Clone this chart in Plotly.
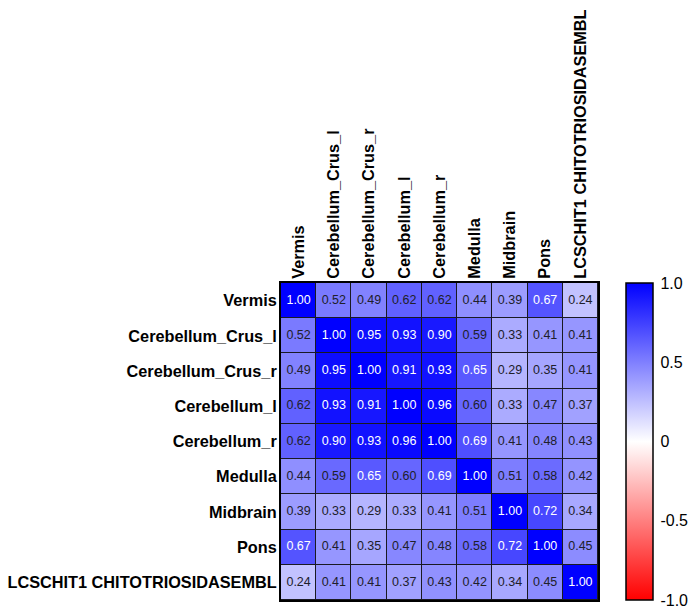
import plotly.graph_objects as go

regions = [
    "Vermis", "Cerebellum_Crus_l", "Cerebellum_Crus_r", "Cerebellum_l",
    "Cerebellum_r", "Medulla", "Midbrain", "Pons", "LCSCHIT1 CHITOTRIOSIDASEMBL",
]

# Pairwise correlation coefficients (rows follow the same order as columns)
r_vermis = [1.00, 0.52, 0.49, 0.62, 0.62, 0.44, 0.39, 0.67, 0.24]
r_crus_l = [0.52, 1.00, 0.95, 0.93, 0.90, 0.59, 0.33, 0.41, 0.41]
r_crus_r = [0.49, 0.95, 1.00, 0.91, 0.93, 0.65, 0.29, 0.35, 0.41]
r_cereb_l = [0.62, 0.93, 0.91, 1.00, 0.96, 0.60, 0.33, 0.47, 0.37]
r_cereb_r = [0.62, 0.90, 0.93, 0.96, 1.00, 0.69, 0.41, 0.48, 0.43]
r_medulla = [0.44, 0.59, 0.65, 0.60, 0.69, 1.00, 0.51, 0.58, 0.42]
r_midbrain = [0.39, 0.33, 0.29, 0.33, 0.41, 0.51, 1.00, 0.72, 0.34]
r_pons = [0.67, 0.41, 0.35, 0.47, 0.48, 0.58, 0.72, 1.00, 0.45]
r_chit1 = [0.24, 0.41, 0.41, 0.37, 0.43, 0.42, 0.34, 0.45, 1.00]

matrix = [r_vermis, r_crus_l, r_crus_r, r_cereb_l, r_cereb_r,
          r_medulla, r_midbrain, r_pons, r_chit1]

cbar_vals = [1.0, 0.5, 0, -0.5, -1.0]
cbar_text = ["1.0", "0.5", "0", "-0.5", "-1.0"]

FONT = "Liberation Sans, Arial, sans-serif"
PLOT_W = 317  # plot-area width in px, used to place the colour-bar tick marks

fig = go.Figure()

cb_x0 = 1.0883
cb_thick = 27

fig.add_trace(go.Heatmap(
    z=matrix, x=regions, y=regions,
    zmin=-1, zmax=1,
    colorscale=[[0, "rgb(255,0,0)"], [0.5, "rgb(255,255,255)"], [1, "rgb(0,0,255)"]],
    xgap=1, ygap=1,
    hoverinfo="skip",
    colorbar=dict(
        x=cb_x0, xanchor="left", xref="paper",
        y=0.5, yanchor="middle", len=1, lenmode="fraction",
        thickness=cb_thick, xpad=0, ypad=0,
        outlinecolor="black", outlinewidth=1.5,
        tickvals=cbar_vals, ticktext=cbar_text,
        ticks="outside", ticklen=4, tickwidth=1, tickcolor="rgba(0,0,0,0)",
        ticklabeloverflow="allow",
        tickfont=dict(family=FONT, size=16, color="black"),
    ),
))

# Cell value labels: light text on the darker cells
xs, ys, labels, colors = [], [], [], []
for i, row in enumerate(matrix):
    for j, v in enumerate(row):
        xs.append(regions[j])
        ys.append(regions[i])
        labels.append(f"{v:.2f}")
        colors.append("white" if v >= 0.64 else "#20202a")

fig.add_trace(go.Scatter(
    x=xs, y=ys, mode="text", text=labels,
    textfont=dict(family=FONT, size=12.5, color=colors),
    hoverinfo="skip", showlegend=False,
))

# Short inward tick marks on both edges of the colour bar
left = cb_x0
right = cb_x0 + cb_thick / PLOT_W
tick = 4 / PLOT_W
for frac in [0.25, 0.5, 0.75]:
    for xa, xb in [(left, left + tick), (right - tick, right)]:
        fig.add_shape(type="line", xref="paper", yref="paper",
                      x0=xa, x1=xb, y0=frac, y1=frac,
                      line=dict(color="black", width=1.5))

fig.update_layout(
    width=693, height=610,
    margin=dict(l=281, r=95, t=283, b=10, autoexpand=False),
    paper_bgcolor="white", plot_bgcolor="#1a1a22",
    showlegend=False,
    font=dict(family=FONT, color="black"),
    xaxis=dict(
        side="top", tickangle=-90, type="category",
        tickfont=dict(family=FONT, size=16.3, color="black", weight="bold"),
        showgrid=False, zeroline=False, ticks="",
        showline=True, linecolor="black", linewidth=2, mirror=True,
        range=[-0.5, 8.5], automargin=False, ticklabelstandoff=-1,
    ),
    yaxis=dict(
        type="category", autorange="reversed",
        tickfont=dict(family=FONT, size=16.3, color="black", weight="bold"),
        showgrid=False, zeroline=False, ticks="",
        showline=True, linecolor="black", linewidth=2, mirror=True,
        automargin=False, ticklabelstandoff=-1,
    ),
)

fig.write_html("out.html")
